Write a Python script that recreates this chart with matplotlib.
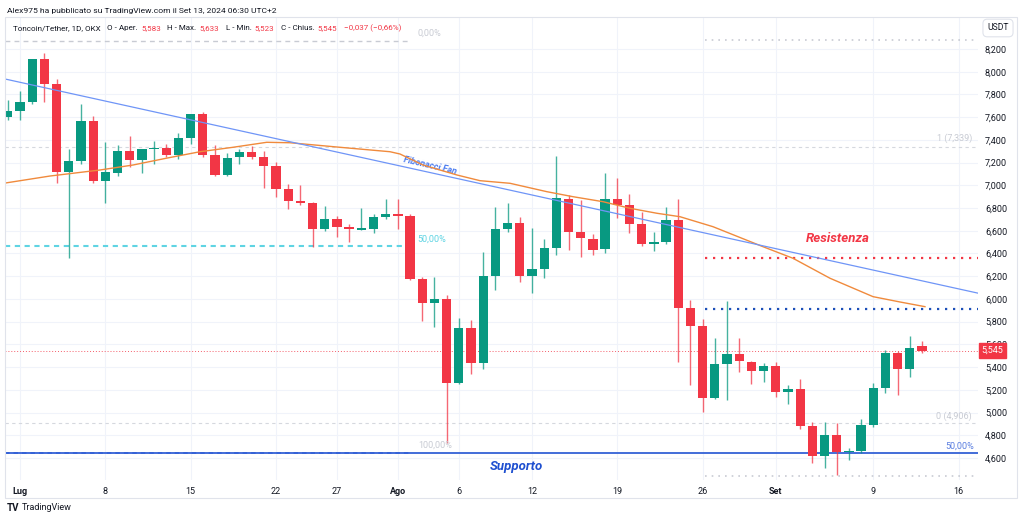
# -*- coding: utf-8 -*-
import numpy as np
import pandas as pd
import matplotlib
matplotlib.use("Agg")
import matplotlib.pyplot as plt
import matplotlib.dates as mdates
import matplotlib.transforms as mtrans
from matplotlib.patches import Rectangle

plt.rcParams['font.family'] = ['Roboto', 'DejaVu Sans']

# daily candles TON/USDT, 30 Jun -> 13 Sep 2024
dates = pd.date_range("2024-06-30", "2024-09-13", freq="D")
opens = [7.604, 7.657, 7.731, 8.112, 7.889, 7.117, 7.214, 7.569, 7.041, 7.111,
         7.300, 7.223, 7.317, 7.331, 7.267, 7.414, 7.625, 7.264, 7.088, 7.247,
         7.293, 7.252, 7.170, 6.965, 6.862, 6.844, 6.613, 6.701, 6.630, 6.610,
         6.613, 6.724, 6.748, 6.733, 6.173, 5.967, 5.999, 5.262, 5.744, 5.439,
         6.204, 6.613, 6.666, 6.202, 6.263, 6.446, 6.880, 6.592, 6.530, 6.437,
         6.880, 6.824, 6.657, 6.486, 6.498, 6.695, 5.917, 5.761, 5.125, 5.427,
         5.515, 5.447, 5.365, 5.409, 5.181, 5.207, 4.881, 4.620, 4.802, 4.650,
         4.661, 4.890, 5.213, 5.521, 5.383, 5.583]
highs = [7.751, 7.830, 8.115, 8.167, 7.936, 7.317, 7.713, 7.608, 7.381, 7.355,
         7.434, 7.320, 7.393, 7.364, 7.458, 7.630, 7.648, 7.352, 7.282, 7.317,
         7.346, 7.305, 7.208, 7.012, 7.003, 6.850, 6.818, 6.730, 6.660, 6.800,
         6.745, 6.880, 6.880, 6.750, 6.196, 6.196, 6.034, 5.829, 5.814, 6.416,
         6.807, 6.842, 6.719, 6.622, 6.530, 7.258, 6.915, 6.871, 6.569, 7.106,
         7.062, 6.924, 6.768, 6.592, 6.812, 6.877, 5.990, 5.823, 5.659, 5.985,
         5.653, 5.450, 5.433, 5.447, 5.242, 5.292, 4.914, 4.914, 4.905, 4.685,
         4.940, 5.262, 5.550, 5.544, 5.674, 5.633]
lows = [7.575, 7.575, 7.716, 7.736, 7.023, 6.357, 7.188, 7.018, 6.847, 7.082,
        7.159, 7.111, 7.188, 7.247, 7.229, 7.364, 7.247, 7.080, 7.082, 7.188,
        7.230, 6.974, 6.900, 6.792, 6.827, 6.460, 6.600, 6.542, 6.501, 6.605,
        6.583, 6.701, 6.613, 6.165, 5.806, 5.756, 4.729, 5.255, 5.337, 5.381,
        6.079, 6.592, 6.149, 6.049, 6.181, 6.387, 6.431, 6.372, 6.389, 6.407,
        6.710, 6.583, 6.466, 6.422, 6.483, 5.447, 5.242, 5.007, 5.120, 5.110,
        5.357, 5.251, 5.271, 5.139, 5.075, 4.852, 4.558, 4.508, 4.450, 4.582,
        4.641, 4.870, 5.169, 5.154, 5.310, 5.523]
closes = [7.657, 7.731, 8.112, 7.889, 7.117, 7.214, 7.569, 7.038, 7.115, 7.300,
          7.223, 7.317, 7.331, 7.267, 7.414, 7.625, 7.264, 7.088, 7.243, 7.293,
          7.252, 7.170, 6.965, 6.862, 6.847, 6.613, 6.701, 6.630, 6.613, 6.618,
          6.724, 6.748, 6.730, 6.173, 5.967, 5.999, 5.262, 5.744, 5.439, 6.204,
          6.613, 6.666, 6.202, 6.263, 6.446, 6.886, 6.592, 6.534, 6.431, 6.880,
          6.824, 6.659, 6.483, 6.498, 6.695, 5.917, 5.761, 5.125, 5.427, 5.515,
          5.451, 5.365, 5.412, 5.181, 5.207, 4.881, 4.620, 4.802, 4.650, 4.664,
          4.890, 5.213, 5.521, 5.383, 5.571, 5.545]

# moving average (days after 1 Jul, price)
ma_days = [-1.23, 2.46, 6.56, 9.27, 12.06, 14.77, 17.47, 20.24, 22.15, 26.25,
           30.35, 31.17, 33.06, 35.85, 37.74, 40.2, 43.23, 45.37, 47.83, 50.04,
           52.26, 54.14, 56.85, 60.95, 63.41, 66.45, 69.98, 72.2, 74.24]
ma_vals = [7.020, 7.082, 7.135, 7.179, 7.240, 7.296, 7.335, 7.379, 7.375, 7.335,
           7.296, 7.276, 7.179, 7.091, 7.041, 7.018, 6.944, 6.900, 6.856, 6.798,
           6.754, 6.724, 6.636, 6.460, 6.358, 6.182, 6.020, 5.973, 5.932]

# fibonacci fan ray, two points (days after 1 Jul, price)
fan_days = [-1.09, 78.67]
fan_vals = [7.933, 6.049]

# levels
fib_left = {"0,00%": 8.273, "50,00%": 6.466, "100,00%": 4.641}
fib_full = {"1 (7,339)": 7.339, "0 (4,906)": 4.906}
fib_right_dots = [8.280, 4.444]
resistenza = 6.363
blue_level = 5.909
supporto = 4.641

price_ticks = [4.6, 4.8, 5.0, 5.2, 5.4, 5.6, 5.8, 6.0, 6.2, 6.4, 6.6, 6.8,
               7.0, 7.2, 7.4, 7.6, 7.8, 8.0, 8.2]
date_ticks = ["2024-07-01", "2024-07-08", "2024-07-15", "2024-07-22", "2024-07-27",
              "2024-08-01", "2024-08-06", "2024-08-12", "2024-08-19", "2024-08-26",
              "2024-09-01", "2024-09-09", "2024-09-16"]
date_labels = ["Lug", "8", "15", "22", "27", "Ago", "6", "12", "19", "26", "Set", "9", "16"]

GREEN = "#089981"
RED = "#f23645"
TXT = "#131722"

base = mdates.date2num(pd.Timestamp("2024-07-01"))
def dn(d):
    return base + d

fig = plt.figure(figsize=(10.24, 5.22), dpi=100)
ax = fig.add_axes([5/1024, 42/522, 973/1024, 463/522])
ax.set_xlim(dn(-1.23), dn(78.59))
ax.set_ylim(4.406, 8.482)

x = mdates.date2num(dates)
for xi, o, h, l, c in zip(x, opens, highs, lows, closes):
    col = GREEN if c >= o else RED
    ax.vlines(xi, l, h, color=col, lw=1, alpha=0.75, zorder=3)
    ax.bar(xi, max(abs(c - o), 0.012), bottom=min(o, c), width=0.76,
           color=col, zorder=4)

# moving average + fan
ax.plot([dn(d) for d in ma_days], ma_vals, color="#f08a3c", lw=1, zorder=5)
ax.axline((dn(fan_days[0]), fan_vals[0]), (dn(fan_days[1]), fan_vals[1]),
          color="#6f95f7", lw=0.9, zorder=5)
ax.text(dn(33.6), 7.17, "Fibonacci Fan", color="#4a7bf0", fontsize=6.5,
        fontweight="bold", style="italic", rotation=-13, ha="center", va="center")

# left fib retracement
xr = ax.get_xlim()
ax.hlines(fib_left["0,00%"], xr[0], dn(32.0), color="#c8cbd3", lw=1,
          linestyle=(0, (3.5, 3)))
ax.hlines(fib_left["50,00%"], xr[0], dn(32.0), color="#5fd4e3", lw=1.5,
          linestyle=(0, (2.5, 2.2)))
ax.hlines(fib_left["100,00%"], xr[0], dn(32.0), color="#3461d6", lw=1.3,
          linestyle=(0, (2.5, 2.2)))
ax.text(dn(32.65), 8.341, "0,00%", color="#c8cbd3", fontsize=6.5, va="center")
ax.text(dn(32.57), 6.527, "50,00%", color="#5fd4e3", fontsize=6.5, va="center")
ax.text(dn(32.65), 4.714, "100,00%", color="#c8cbd3", fontsize=6.5, va="center")

# full-width fib levels
for lab, v in fib_full.items():
    ax.axhline(v, color="#d5d8de", lw=0.8, linestyle=(0, (3, 3)), zorder=1)
ax.text(dn(78.1), 7.417, "1 (7,339)", color="#c8cbd3", fontsize=6.5, ha="right", va="center")
ax.text(dn(78.1), 4.969, "0 (4,906)", color="#c8cbd3", fontsize=6.5, ha="right", va="center")

# right side dotted levels
for v in fib_right_dots:
    ax.hlines(v, dn(56.2), xr[1], color="#c8cbd3", lw=1.2, linestyle=(0, (1, 3)))
ax.hlines(resistenza, dn(56.2), xr[1], color=RED, lw=1.6, linestyle=(0, (1, 2.6)))
ax.hlines(blue_level, dn(56.2), xr[1], color="#1c4fb8", lw=1.6, linestyle=(0, (1, 2.6)))
ax.text(dn(67.1), 6.536, "Resistenza", color=RED, fontsize=9.5, fontweight="bold",
        style="italic", ha="center", va="center")

# support
ax.axhline(supporto, color="#3461d6", lw=1.3, zorder=2)
ax.text(dn(40.69), 4.529, "Supporto", color="#1e4fd0", fontsize=9.5, fontweight="bold",
        style="italic", ha="center", va="center")
ax.text(dn(78.26), 4.705, "50,00%", color="#5b7fe0", fontsize=6.5, ha="right", va="center")

# last price line and tag
last = closes[-1]
ax.axhline(last, color=RED, lw=0.7, linestyle=(0, (1, 2)), alpha=0.8, zorder=2)
tr = mtrans.blended_transform_factory(ax.transAxes, ax.transData)
ax.text(1.0035, last, f"{last:.3f}".replace(".", ","), transform=tr, color="white",
        fontsize=6.5, va="center", ha="left", zorder=10, clip_on=False,
        bbox=dict(boxstyle="square,pad=0.3", fc=RED, ec=RED))

# axes styling
for s in ax.spines.values():
    s.set_visible(False)
ax.yaxis.tick_right()
ax.set_yticks(price_ticks)
ax.set_yticklabels([f"{v:.3f}".replace(".", ",") for v in price_ticks])
ax.set_xticks([mdates.date2num(pd.Timestamp(d)) for d in date_ticks])
ax.set_xticklabels(date_labels)
for t in ax.get_xticklabels():
    if t.get_text() in ("Lug", "Ago", "Set"):
        t.set_fontweight("bold")
ax.tick_params(axis="y", length=0, pad=5, labelsize=6.5, colors=TXT)
ax.tick_params(axis="x", length=0, pad=5, labelsize=6.5, colors=TXT)
ax.grid(color="#f0f3fa", lw=0.8)
ax.set_axisbelow(True)

# frame and header
fig.patches.append(Rectangle((5/1024, 1 - 498/522), 1012/1024, 481/522,
                             transform=fig.transFigure, fill=False,
                             ec="#e0e3eb", lw=0.8))
fig.text(7/1024, 1 - 11/522, "Alex975 ha pubblicato su TradingView.com il Set 13, 2024 06:30 UTC+2",
         fontsize=6.1, color=TXT, va="center")
fig.text(998/1024, 1 - 28/522, "USDT", fontsize=6.2, color=TXT, ha="center", va="center",
         bbox=dict(boxstyle="round,pad=0.5", fc="white", ec="#e0e3eb", lw=0.8))

# legend line, pieces placed where the reference has them
segments = ["Toncoin/Tether, 1D, OKX", "O - Aper.", "5,583", "H - Max.", "5,633",
            "L - Min.", "5,523", "C - Chius.", "5,545", "\u22120,037 (\u22120,66%)"]
seg_colors = [TXT, TXT, RED, TXT, RED, TXT, RED, TXT, RED, RED]
seg_x = [13, 107, 141, 167, 199, 226, 254, 281, 317, 344]
for txt, col, xp in zip(segments, seg_colors, seg_x):
    fig.text(xp/1024, 1 - 28/522, txt, fontsize=5.8, color=col, va="center")

fig.text(7/1024, 1 - 508/522, "TV", fontsize=7, fontweight="bold", color=TXT, va="center")
fig.text(22/1024, 1 - 508/522, "TradingView", fontsize=6.5, color=TXT, va="center")

fig.savefig("out.png", dpi=100, facecolor="white")
